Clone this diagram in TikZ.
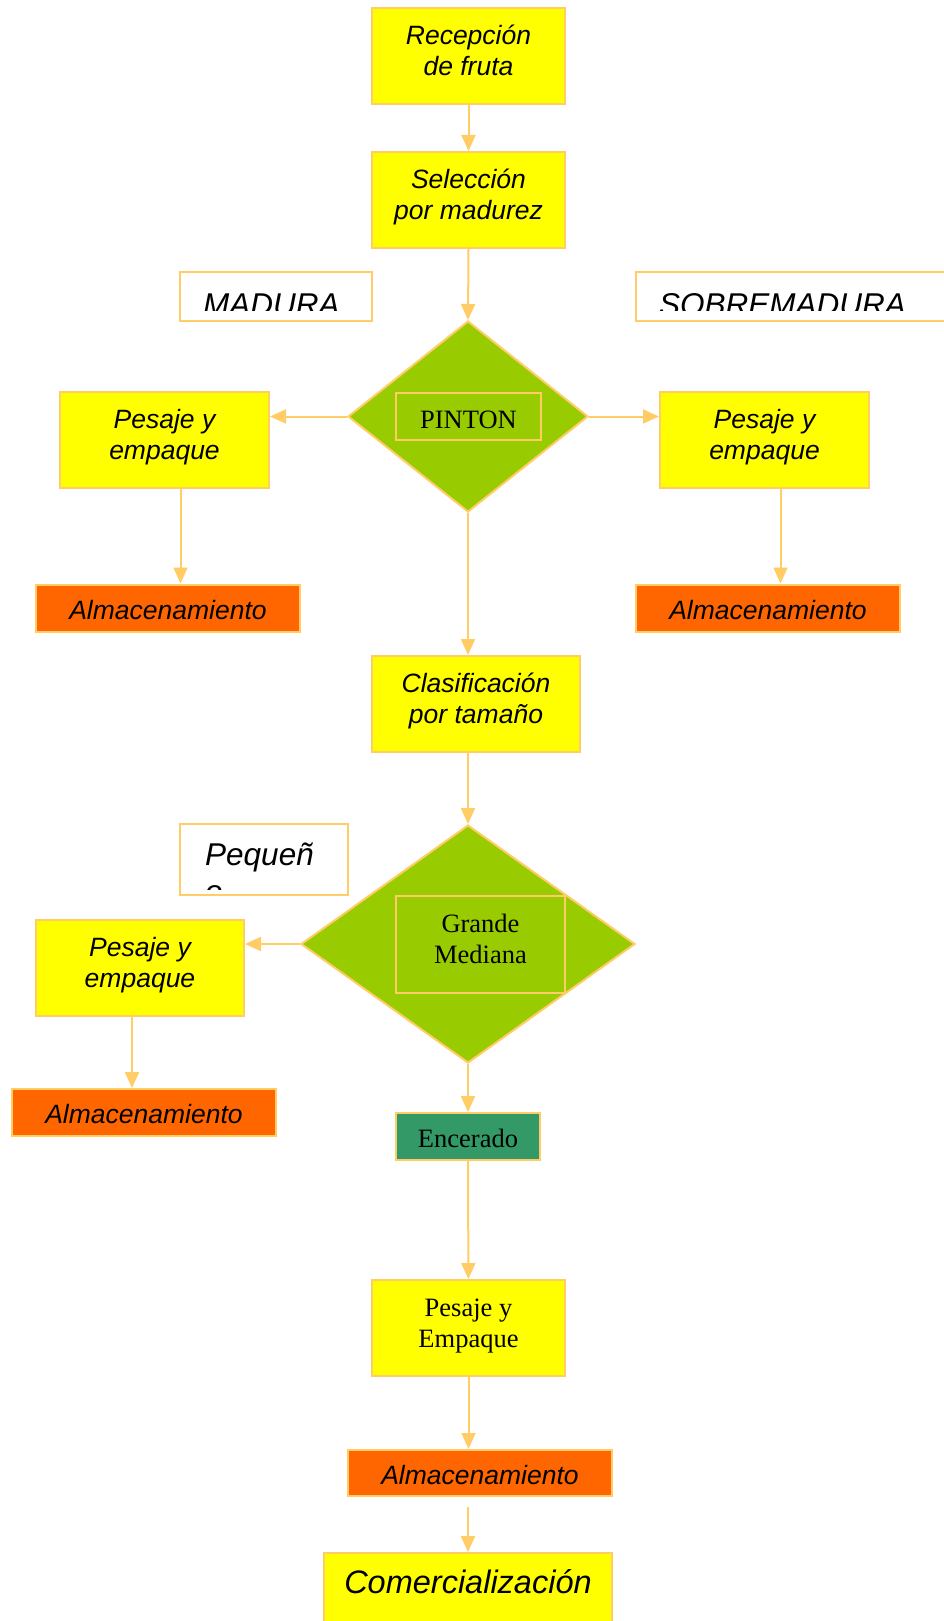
\documentclass[tikz,border=0pt]{standalone}
\usepackage{fontspec}
\setmainfont{Liberation Serif}
\setsansfont{Liberation Sans}
\usepackage{tikz}
\usetikzlibrary{shapes.geometric,arrows.meta,positioning,calc}

\definecolor{boxyellow}{HTML}{FFFF00}
\definecolor{edgeorange}{HTML}{FFCC66}
\definecolor{leafgreen}{HTML}{99CC00}
\definecolor{storeorange}{HTML}{FF6600}
\definecolor{waxgreen}{HTML}{339966}

\newcommand{\procfont}{\fontsize{26.5}{31}\selectfont\sffamily\itshape}
\newcommand{\tagfont}{\fontsize{31.5}{37}\selectfont\sffamily\itshape}
\newcommand{\plainfont}{\fontsize{26.5}{31}\selectfont\rmfamily}

\begin{document}
\begin{tikzpicture}[x=1pt, y=-1pt,
    procbox/.style={draw=edgeorange, line width=2pt, fill=boxyellow, minimum width=193pt, minimum height=96pt, align=center, font=\procfont, inner sep=0pt, text height=39pt, text depth=0pt},
    storebox/.style={draw=edgeorange, line width=2pt, fill=storeorange, minimum width=264pt, minimum height=47pt, font=\procfont, inner sep=0pt, text height=22pt, text depth=0pt},
    tagbox/.style={draw=edgeorange, line width=2pt, fill=white, inner sep=0pt},
    tagtext/.style={font=\tagfont, anchor=base west, align=left, inner sep=0pt},
    decision/.style={diamond, draw=edgeorange, line width=2pt, fill=leafgreen, inner sep=0pt},
    innerbox/.style={draw=edgeorange, line width=2pt, align=center, font=\plainfont, inner sep=0pt, text depth=0pt},
    flow/.style={draw=edgeorange, line width=2pt, -{Triangle[length=16pt,width=14pt]}}
]
    \useasboundingbox (0,0) rectangle (944,1621);

    % Reception and selection
    \node[procbox] (rec) at (468.5,56) {Recepción\\de fruta};
    \node[procbox] (sel) at (468.5,200) {Selección\\por madurez};

    % Ripeness tags
    \node[tagbox, minimum width=192pt, minimum height=49pt] (madura) at (276,296.5) {};
    \begin{scope}
        \clip (madura.north west) rectangle ([yshift=12pt]madura.south east);
        \node[tagtext] (maduratxt) at ([xshift=24pt, yshift=7pt]madura.south west) {MADURA};
    \end{scope}
    \node[tagbox, minimum width=324pt, minimum height=49pt] (sobre) at (798,296.5) {};
    \begin{scope}
        \clip (sobre.north west) rectangle ([yshift=12pt]sobre.south east);
        \node[tagtext] (sobretxt) at ([xshift=24pt, yshift=7pt]sobre.south west) {SOBREMADURA};
    \end{scope}

    % First decision
    \node[decision, minimum width=240pt, minimum height=191pt] (d1) at (468,416.5) {};
    \node[innerbox, minimum width=145pt, minimum height=47pt, text height=23pt] (pinton) at (468.5,416.5) {PINTON};

    % Side branches
    \node[procbox, minimum width=209pt] (pesL) at (164.5,440) {Pesaje y\\empaque};
    \node[procbox, minimum width=209pt] (pesR) at (764.5,440) {Pesaje y\\empaque};
    \node[storebox] (almL) at (168,608) {Almacenamiento};
    \node[storebox] (almR) at (768,608) {Almacenamiento};

    % Size sorting
    \node[procbox, minimum width=208pt] (cla) at (476,704) {Clasificación\\por tamaño};
    \node[decision, minimum width=334pt, minimum height=238pt] (d2) at (468,944) {};
    \node[innerbox, minimum width=169pt, minimum height=97pt, text height=38pt] (gm) at (480.5,944.5) {Grande\\Mediana};

    % Small size tag
    \node[tagbox, minimum width=168pt, minimum height=71pt] (peq) at (264,859.5) {};
    \begin{scope}
        \clip (peq.north west) rectangle ([yshift=7pt]peq.south east);
        \node[tagtext] (peqtxt) at (205,902) {Pequeñ\\o};
    \end{scope}

    \node[procbox, minimum width=208pt] (pesL2) at (140,968) {Pesaje y\\empaque};
    \node[storebox] (almL2) at (144,1112.5) {Almacenamiento};

    % Main line
    \node[innerbox, fill=waxgreen, minimum width=144pt, minimum height=47pt, text height=21pt] (enc) at (468,1136.5) {Encerado};
    \node[procbox, font=\plainfont] (pem) at (468.5,1328) {Pesaje y\\Empaque};
    \node[storebox, minimum height=46pt] (almB) at (480,1473) {Almacenamiento};
    \node[procbox, minimum width=288pt, minimum height=72pt, text height=9pt, font=\fontsize{32.5}{37}\selectfont\sffamily\itshape] (com) at (468,1589) {Comercialización};

    % Arrows
    \draw[flow] (rec) -- (sel);
    \draw[flow] (sel.south) -- (d1.north);
    \draw[flow] (d1.west) -- (d1.west -| pesL.east);
    \draw[flow] (d1.east) -- (d1.east -| pesR.west);
    \draw[flow] ([xshift=16pt]pesL.south) -- ([xshift=16pt]pesL.south |- almL.north);
    \draw[flow] ([xshift=16pt]pesR.south) -- ([xshift=16pt]pesR.south |- almR.north);
    \draw[flow] (d1.south) -- (d1.south |- cla.north);
    \draw[flow] (cla.south -| d2.north) -- (d2.north);
    \draw[flow] (d2.west) -- (d2.west -| pesL2.east);
    \draw[flow] ([xshift=-8pt]pesL2.south) -- ([xshift=-8pt]pesL2.south |- almL2.north);
    \draw[flow] (d2.south) -- (enc.north);
    \draw[flow] (enc) -- (pem);
    \draw[flow] (pem.south) -- (pem.south |- almB.north);
    \draw[flow] ([yshift=-10pt]almB.south -| com.north) -- (com.north);
\end{tikzpicture}
\end{document}
